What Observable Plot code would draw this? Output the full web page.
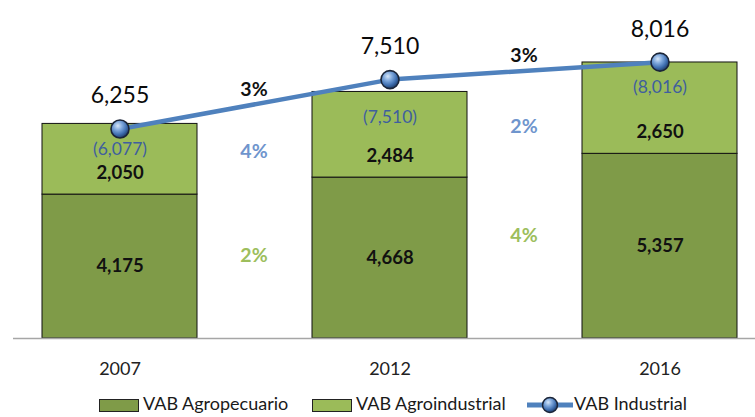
<!DOCTYPE html>
<html>
<head>
<meta charset="utf-8">
<script src="https://cdn.jsdelivr.net/npm/d3@7"></script>
<script src="https://cdn.jsdelivr.net/npm/@observablehq/plot@0.6"></script>
<style>
  body { margin: 0; background: #fff; }
  #chart { position: relative; width: 755px; }
  #legend { position: relative; width: 755px; height: 27px; font-family: Lato, sans-serif; font-size: 18px; color: #1a1a1a; }
  #legend .sw { position: absolute; top: 9px; width: 38px; height: 11px; border: 1px solid #222; }
  #legend .lb { position: absolute; top: 1px; line-height: 24px; white-space: nowrap; }
</style>
</head>
<body>
<div id="chart"></div>
<div id="legend"></div>
<script>
// ---- data ----
const years = ["2007", "2012", "2016"];
const seriesNames = ["VAB Agropecuario", "VAB Agroindustrial", "VAB Industrial"];
const agropecuario = [4175, 4668, 5357];
const agroindustrial = [2050, 2484, 2650];
const industrial = [6077, 7510, 8016];
const totalLabels = [6255, 7510, 8016];
const growthTotal = ["3%", "3%"];
const growthAgroind = ["4%", "2%"];
const growthAgro = ["2%", "4%"];
const seriesColors = ["#7F9B48", "#9BBB59", "#4F81BD"];

// ---- derived tables ----
const fmt = d3.format(",");
const stacked = [];
years.forEach((y, i) => {
  stacked.push({year: y, series: seriesNames[0], value: agropecuario[i]});
  stacked.push({year: y, series: seriesNames[1], value: agroindustrial[i]});
});
const rows = years.map((y, i) => ({
  year: y,
  agro: agropecuario[i],
  agroind: agroindustrial[i],
  top: agropecuario[i] + agroindustrial[i],
  ind: industrial[i],
  total: totalLabels[i]
}));
const growth = growthTotal.map((g, i) => ({
  year: years[i],
  total: g,
  agroind: growthAgroind[i],
  agro: growthAgro[i],
  yTotal: (industrial[i] + industrial[i + 1]) / 2,
  yAgroind: (agropecuario[i] + agroindustrial[i] / 2 + agropecuario[i + 1] + agroindustrial[i + 1] / 2) / 2,
  yAgro: (agropecuario[i] + agropecuario[i + 1]) / 2
}));

const plot = Plot.plot({
  width: 755,
  height: 390,
  marginLeft: 13,
  marginRight: 0,
  marginTop: 0,
  marginBottom: 52,
  style: {fontFamily: "Lato, sans-serif", background: "#fff"},
  x: {domain: years, range: [13, 765.5], paddingInner: 0.4265, paddingOuter: 0.1055, label: null},
  y: {domain: [0, 9805], axis: null},
  color: {domain: seriesNames.slice(0, 2), range: seriesColors.slice(0, 2)},
  marks: [
    Plot.barY(stacked, {x: "year", y: "value", fill: "series", stroke: "#111", strokeWidth: 1}),
    Plot.ruleY([0], {stroke: "#A6A6A6", strokeWidth: 1.5}),
    Plot.axisX({tickSize: 0, tickPadding: 24, fontSize: 18, fill: "#222"}),
    // bar labels
    Plot.text(rows, {x: "year", y: d => d.agro / 2, text: d => fmt(d.agro), fontSize: 18.5, fontWeight: "bold", fill: "#111"}),
    Plot.text(rows, {x: "year", y: "agro", dy: -22, text: d => fmt(d.agroind), fontSize: 18.5, fontWeight: "bold", fill: "#111"}),
    Plot.text(rows, {x: "year", y: "top", dy: 25, text: d => "(" + fmt(d.ind) + ")", fontSize: 17.5, fill: "#3F5F9E"}),
    // line
    Plot.line(rows, {x: "year", y: "ind", stroke: seriesColors[2], strokeWidth: 4.5}),
    Plot.dot(rows, {x: "year", y: "ind", r: 9, fill: "url(#ballGrad)", stroke: "#1b2538", strokeWidth: 1.6}),
    Plot.text(rows, {x: "year", y: "ind", dy: -33, text: d => fmt(d.total), fontSize: 23, fill: "#0a0a0a"}),
    // growth labels
    Plot.text(growth, {x: "year", dx: 134, y: "yTotal", dy: -15, text: "total", fontSize: 19.5, fontWeight: "bold", fill: "#111"}),
    Plot.text(growth, {x: "year", dx: 134, y: "yAgroind", dy: 5, text: "agroind", fontSize: 19.5, fontWeight: "bold", fill: "#6F95CD"}),
    Plot.text(growth, {x: "year", dx: 134, y: "yAgro", dy: 70, text: "agro", fontSize: 19.5, fontWeight: "bold", fill: "#9DBE5C"})
  ]
});

// sphere gradient for markers
const ns = "http://www.w3.org/2000/svg";
const defs = document.createElementNS(ns, "defs");
defs.innerHTML = `<radialGradient id="ballGrad" cx="38%" cy="32%" r="70%">
  <stop offset="0" stop-color="#d6e6f8"/>
  <stop offset="0.35" stop-color="#7fa8dc"/>
  <stop offset="0.7" stop-color="#3f6fb0"/>
  <stop offset="1" stop-color="#1e3a66"/>
</radialGradient>`;
plot.insertBefore(defs, plot.firstChild);
document.getElementById("chart").appendChild(plot);

// legend
const legend = document.getElementById("legend");
legend.innerHTML = `
  <div class="sw" style="left:99px;background:${seriesColors[0]}"></div>
  <div class="lb" style="left:143px">${seriesNames[0]}</div>
  <div class="sw" style="left:312px;background:${seriesColors[1]}"></div>
  <div class="lb" style="left:356px">${seriesNames[1]}</div>
  <svg style="position:absolute;left:526px;top:4px" width="48" height="22">
    <defs><radialGradient id="ballGrad2" cx="38%" cy="32%" r="70%">
      <stop offset="0" stop-color="#d6e6f8"/><stop offset="0.35" stop-color="#7fa8dc"/>
      <stop offset="0.7" stop-color="#3f6fb0"/><stop offset="1" stop-color="#1e3a66"/></radialGradient></defs>
    <line x1="1" x2="47" y1="11" y2="11" stroke="${seriesColors[2]}" stroke-width="5"/>
    <circle cx="24" cy="11" r="7.5" fill="url(#ballGrad2)" stroke="#1b2538" stroke-width="1.5"/>
  </svg>
  <div class="lb" style="left:574px">${seriesNames[2]}</div>`;
</script>
</body>
</html>
